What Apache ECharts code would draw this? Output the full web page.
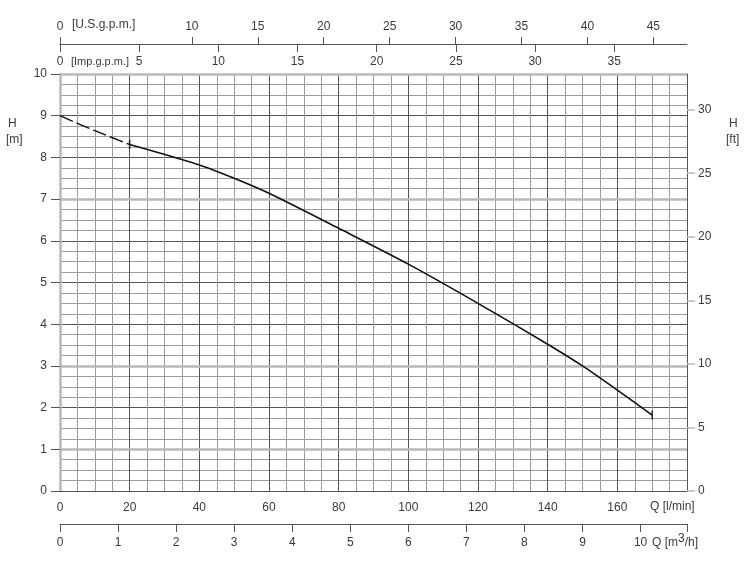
<!DOCTYPE html>
<html>
<head>
<meta charset="utf-8">
<script src="https://cdn.jsdelivr.net/npm/echarts@6/dist/echarts.min.js"></script>
<style>html,body{margin:0;padding:0;background:#fff}#c{width:749px;height:568px}</style>
</head>
<body>
<div id="c"></div>
<script>
// ---- data ----
const qDashed = [0, 10, 20];            // l/min
const hDashed = [9.0, 8.64, 8.31];      // m
const qSolid = [20, 40, 50, 60, 80, 100, 120, 140, 150, 160, 170];
const hSolid = [8.31, 7.82, 7.5, 7.14, 6.3, 5.44, 4.5, 3.52, 3.0, 2.42, 1.82];
const qEnds = [20, 170];
const hEnds = [8.31, 1.82];

// axis tick labels
const lpmTicks = [0, 20, 40, 60, 80, 100, 120, 140, 160];
const mTicks = [0, 1, 2, 3, 4, 5, 6, 7, 8, 9, 10];
const usTicks = [0, 10, 15, 20, 25, 30, 35, 40, 45];
const impTicks = [0, 5, 10, 15, 20, 25, 30, 35];
const m3hTicks = [0, 1, 2, 3, 4, 5, 6, 7, 8, 9, 10];
const ftTicks = [0, 5, 10, 15, 20, 25, 30];
const lpmMax = 180, mMax = 10;
const grayLevels = [1, 3, 7, 10];

// unit conversions
const LPM_PER_US = 3.78541, LPM_PER_IMP = 4.54609, LPM_PER_M3H = 1000 / 60, FT_PER_M = 3.28084;

const FONT = '"Liberation Sans",Arimo,sans-serif';
const FS = 12;
const TXT = '#3a3a3a';
const DARK = '#555';
const LIGHT = '#9c9c9c';
const GRAY = '#b9b9b9';

const lbl = (extra) => Object.assign({color: TXT, fontFamily: FONT, fontSize: FS}, extra || {});
const gridColors = [DARK, LIGHT, LIGHT, LIGHT];

const chart = echarts.init(document.getElementById('c'), null, {renderer: 'canvas'});
chart.setOption({
  animation: false,
  backgroundColor: '#fff',
  grid: {left: 60, right: 62, top: 74, bottom: 77, show: false},
  xAxis: [
    { // l/min
      type: 'value', position: 'bottom', min: 0, max: lpmMax, interval: 5,
      axisLine: {show: true, onZero: false, lineStyle: {color: DARK, width: 1}},
      axisTick: {show: false},
      axisLabel: lbl({margin: 11, customValues: lpmTicks}),
      splitLine: {show: true, lineStyle: {color: gridColors, width: 1}}
    },
    { // m3/h
      type: 'value', position: 'bottom', offset: 33, min: 0, max: lpmMax / LPM_PER_M3H,
      axisLine: {show: true, onZero: false, lineStyle: {color: DARK, width: 1}},
      axisTick: {show: true, length: 8, lineStyle: {color: DARK}, customValues: m3hTicks.concat([lpmMax / LPM_PER_M3H])},
      axisLabel: lbl({margin: 13, customValues: m3hTicks}),
      splitLine: {show: false}
    },
    { // US gpm
      type: 'value', position: 'top', offset: 30, min: 0, max: lpmMax / LPM_PER_US,
      axisLine: {show: true, onZero: false, lineStyle: {color: DARK, width: 1}},
      axisTick: {show: true, length: 7, lineStyle: {color: DARK}, customValues: usTicks},
      axisLabel: lbl({margin: 11, customValues: usTicks}),
      splitLine: {show: false}
    },
    { // Imp gpm
      type: 'value', position: 'top', offset: 30, min: 0, max: lpmMax / LPM_PER_IMP,
      axisLine: {show: false, onZero: false},
      axisTick: {show: true, inside: true, length: 8, lineStyle: {color: DARK}, customValues: impTicks},
      axisLabel: lbl({inside: true, margin: 12, customValues: impTicks}),
      splitLine: {show: false}
    }
  ],
  yAxis: [
    { // m - grid lines
      type: 'value', position: 'left', min: 0, max: mMax, interval: 0.25,
      axisLine: {show: true, onZero: false, lineStyle: {color: GRAY, width: 2.5}},
      axisTick: {show: false},
      axisLabel: {show: false},
      splitLine: {show: true, lineStyle: {color: gridColors, width: 1}}
    },
    { // ft
      type: 'value', position: 'right', min: 0, max: mMax * FT_PER_M,
      axisLine: {show: true, onZero: false, lineStyle: {color: DARK, width: 1}},
      axisTick: {show: true, length: 8, lineStyle: {color: GRAY, width: 1.5}, customValues: ftTicks},
      axisLabel: lbl({margin: 11, customValues: ftTicks}),
      splitLine: {show: false}
    },
    { // m - ticks and labels
      type: 'value', position: 'left', min: 0, max: mMax, interval: 1,
      axisLine: {show: false, onZero: false},
      axisTick: {show: true, length: 9, lineStyle: {color: DARK}},
      axisLabel: lbl({margin: 13}),
      splitLine: {show: false}
    }
  ],
  graphic: [
    {type: 'text', left: 8, top: 118, style: {text: 'H', fill: TXT, font: FS + 'px ' + FONT}},
    {type: 'text', left: 6, top: 134, style: {text: '[m]', fill: TXT, font: FS + 'px ' + FONT}},
    {type: 'text', left: 729, top: 118, style: {text: 'H', fill: TXT, font: FS + 'px ' + FONT}},
    {type: 'text', left: 726, top: 134, style: {text: '[ft]', fill: TXT, font: FS + 'px ' + FONT}},
    {type: 'text', left: 72, top: 19, style: {text: '[U.S.g.p.m.]', fill: TXT, font: FS + 'px ' + FONT}},
    {type: 'text', left: 71, top: 56, style: {text: '[Imp.g.p.m.]', fill: TXT, font: '11px ' + FONT}},
    {type: 'text', left: 650, top: 501, style: {text: 'Q [l/min]', fill: TXT, font: FS + 'px ' + FONT}},
    {type: 'text', left: 652, top: 533, style: {
      text: 'Q [m{sup|3}/h]', fill: TXT, font: FS + 'px ' + FONT,
      rich: {sup: {fontSize: FS, fontFamily: FONT, fill: TXT, verticalAlign: 'top', padding: [0, 0, 8, 0]}}
    }}
  ],
  series: [
    {
      type: 'line', xAxisIndex: 0, yAxisIndex: 0, z: 1, silent: true,
      data: [[0, 0]], symbol: 'none', lineStyle: {width: 0, opacity: 0},
      markLine: {
        silent: true, symbol: 'none', label: {show: false},
        lineStyle: {color: GRAY, width: 2.5, type: 'solid'},
        data: grayLevels.map(v => ({yAxis: v}))
      }
    },
    {
      type: 'line', xAxisIndex: 0, yAxisIndex: 0, z: 5, silent: true,
      data: qDashed.map((q, i) => [q, hDashed[i]]), symbol: 'none', smooth: 0.3,
      lineStyle: {color: '#111', width: 1.4, type: [14, 4]}
    },
    {
      type: 'line', xAxisIndex: 0, yAxisIndex: 0, z: 5, silent: true,
      data: qSolid.map((q, i) => [q, hSolid[i]]), symbol: 'none', smooth: 0.3,
      lineStyle: {color: '#111', width: 1.6}
    },
    {
      type: 'scatter', xAxisIndex: 0, yAxisIndex: 0, z: 6, silent: true,
      data: qEnds.map((q, i) => [q, hEnds[i]]), symbol: 'rect', symbolSize: [1.6, 9],
      itemStyle: {color: '#111'}
    }
  ]
});
</script>
</body>
</html>
